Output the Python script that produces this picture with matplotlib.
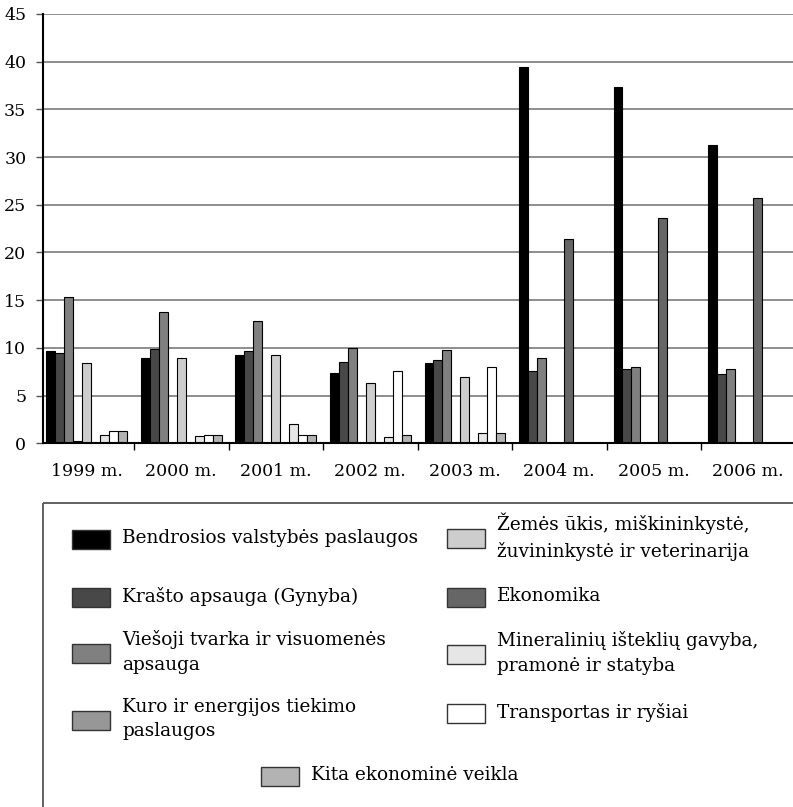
import numpy as np
import matplotlib.pyplot as plt
from matplotlib.patches import Rectangle

plt.rcParams['font.family'] = ['DejaVu Serif']

metai = ['1999 m.', '2000 m.', '2001 m.', '2002 m.', '2003 m.', '2004 m.', '2005 m.', '2006 m.']

bendrosios = [9.7, 8.9, 9.3, 7.4, 8.4, 39.4, 37.4, 31.3]
krasto = [9.5, 9.9, 9.7, 8.5, 8.7, 7.6, 7.8, 7.3]
viesoji = [15.3, 13.8, 12.8, 10.0, 9.8, 8.9, 8.0, 7.8]
kuro = [0.2, 0, 0, 0, 0, 0, 0, 0]
zemes = [8.4, 8.9, 9.3, 6.3, 7.0, 0, 0, 0]
ekonomika = [0, 0, 0, 0, 0, 21.4, 23.6, 25.7]
mineraliniu = [0.9, 0.8, 2.0, 0.7, 1.1, 0, 0, 0]
transportas = [1.3, 0.9, 0.9, 7.6, 8.0, 0, 0, 0]
kita = [1.3, 0.9, 0.9, 0.9, 1.1, 0, 0, 0]

serijos = [bendrosios, krasto, viesoji, kuro, zemes, ekonomika, mineraliniu, transportas, kita]
pavadinimai = ['Bendrosios valstybės paslaugos',
               'Krašto apsauga (Gynyba)',
               'Viešoji tvarka ir visuomenės\napsauga',
               'Kuro ir energijos tiekimo\npaslaugos',
               'Žemės ūkis, miškininkystė,\nžuvininkystė ir veterinarija',
               'Ekonomika',
               'Mineralinių išteklių gavyba,\npramonė ir statyba',
               'Transportas ir ryšiai',
               'Kita ekonominė veikla']
spalvos = ['#000000', '#484848', '#808080', '#979797', '#cdcdcd',
           '#666666', '#e6e6e6', '#ffffff', '#b3b3b3']

W, H = 793, 807
fig = plt.figure(figsize=(W / 100, H / 100), dpi=100)
ax = fig.add_axes([43 / W, (H - 443.3) / H, (W - 43) / W, (443.3 - 14) / H])

x = np.arange(len(metai))
plotis = 0.0947
for i, (s, c) in enumerate(zip(serijos, spalvos)):
    ax.bar(x + (i - 4) * plotis, s, width=plotis, color=c, edgecolor='black',
           linewidth=0.8, zorder=3)

ax.set_xlim(-0.463, 7.473)
ax.set_ylim(0, 45)
ax.set_yticks(np.arange(0, 46, 5))
ax.yaxis.grid(True, color='#7a7a7a', linewidth=1.2, zorder=0)
ax.set_xticks(x)
ax.set_xticklabels(metai)
ax.set_xticks(np.arange(0.5, 7.5, 1), minor=True)
ax.tick_params(axis='x', which='major', length=0, pad=14, labelsize=12.5)
ax.tick_params(axis='x', which='minor', length=5, width=1, direction='out')
ax.tick_params(axis='y', length=5, width=1, color='#555555', pad=7, labelsize=12.5)
for sp in ['top', 'right']:
    ax.spines[sp].set_visible(False)
ax.spines['left'].set_linewidth(1.5)
ax.spines['bottom'].set_linewidth(1.5)
ax.spines['left'].set_zorder(5)
ax.spines['bottom'].set_zorder(5)

# legenda
lg = fig.add_axes([0, 0, 1, 1])
lg.set_xlim(0, W)
lg.set_ylim(H, 0)
lg.axis('off')
lg.add_patch(Rectangle((43, 503), W, H, fill=False, edgecolor='#555555', linewidth=1.3))

vietos = [(72, 539), (72, 597), (72, 653), (72, 720),
          (447, 538), (447, 597), (447, 654), (447, 713), (261, 776)]
for (bx, by), lab, c in zip(vietos, pavadinimai, spalvos):
    lg.add_patch(Rectangle((bx, by - 9.5), 38, 19, facecolor=c, edgecolor='#333333', linewidth=1))
    ty = by - 1 if '\n' not in lab else by - 1
    lg.text(bx + 50, ty, lab, fontsize=13.3, va='center', ha='left', linespacing=1.5)

fig.savefig('out.png', dpi=100)
